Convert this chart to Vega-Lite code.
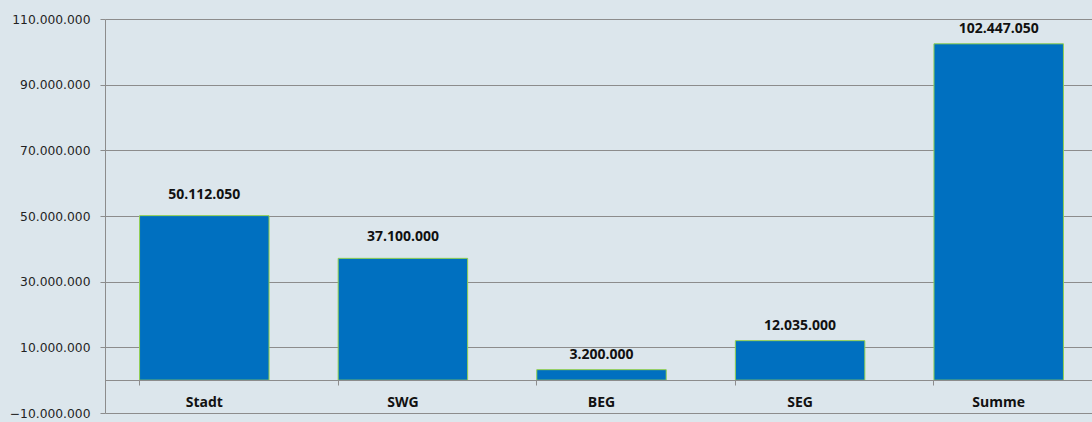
{
  "$schema": "https://vega.github.io/schema/vega-lite/v6.json",
  "autosize": {"type": "none"},
  "width": 987,
  "height": 394,
  "padding": {"left": 105, "top": 19, "right": 0, "bottom": 9},
  "background": "#dce6ec",
  "config": {
    "view": {"stroke": null},
    "locale": {"number": {"decimal": ",", "thousands": ".", "grouping": [3], "currency": ["", " €"]}}
  },
  "data": {
    "values": [
      {"kategorie": "Stadt", "betrag": 50112050},
      {"kategorie": "SWG", "betrag": 37100000},
      {"kategorie": "BEG", "betrag": 3200000},
      {"kategorie": "SEG", "betrag": 12035000},
      {"kategorie": "Summe", "betrag": 102447050}
    ]
  },
  "encoding": {
    "x": {
      "field": "kategorie",
      "type": "nominal",
      "sort": null,
      "scale": {"range": [0, 993], "paddingInner": 0.348, "paddingOuter": 0.174},
      "axis": {
        "title": null,
        "orient": "bottom",
        "offset": -33,
        "bandPosition": 0,
        "domainColor": "#8c8c8c",
        "tickColor": "#8c8c8c",
        "tickSize": 5,
        "labelAngle": 0,
        "labelFont": "Open Sans",
        "labelFontWeight": "bold",
        "labelFontSize": 14,
        "labelColor": "#111111",
        "labelPadding": 21.5,
        "labelBaseline": "alphabetic",
        "zindex": 1
      }
    },
    "y": {
      "field": "betrag",
      "type": "quantitative",
      "scale": {"domain": [-10000000, 110000000], "nice": false, "zero": false},
      "axis": {
        "title": null,
        "values": [-10000000, 10000000, 30000000, 50000000, 70000000, 90000000, 110000000],
        "format": ",d",
        "domainColor": "#8c8c8c",
        "tickColor": "#8c8c8c",
        "gridColor": "#8c8c8c",
        "gridOpacity": 1,
        "tickSize": 5,
        "labelFont": "DejaVu Sans",
        "labelFontSize": 12.3,
        "labelColor": "#222222",
        "labelPadding": 10
      }
    }
  },
  "layer": [
    {
      "mark": {"type": "bar", "color": "#0070c0", "stroke": "#92d050", "strokeWidth": 1},
      "encoding": {"y2": {"datum": 0}}
    },
    {
      "transform": [{"filter": {"field": "kategorie", "oneOf": ["Stadt", "SWG"]}}],
      "mark": {"type": "text", "baseline": "alphabetic", "dy": -17, "font": "Open Sans", "fontWeight": "bold", "fontSize": 14, "color": "#111111"},
      "encoding": {"text": {"field": "betrag", "type": "quantitative", "format": ",d"}}
    },
    {
      "transform": [{"filter": {"field": "kategorie", "oneOf": ["BEG", "SEG", "Summe"]}}],
      "mark": {"type": "text", "baseline": "alphabetic", "dy": -10.5, "font": "Open Sans", "fontWeight": "bold", "fontSize": 14, "color": "#111111"},
      "encoding": {"text": {"field": "betrag", "type": "quantitative", "format": ",d"}}
    }
  ]
}
